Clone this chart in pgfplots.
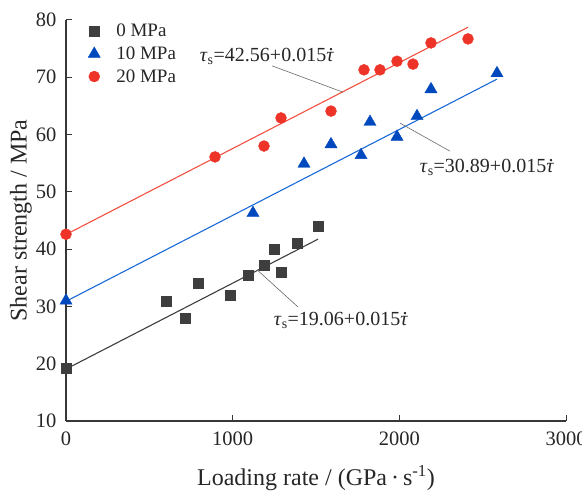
\documentclass[border=0pt]{standalone}
\usepackage{fontspec}
\setmainfont{Liberation Serif}
\usepackage{pgfplots}
\pgfplotsset{compat=1.18}
\definecolor{axisc}{RGB}{55,55,55}
\definecolor{cblk}{RGB}{62,62,62}
\definecolor{cblue}{RGB}{0,72,190}
\definecolor{lblue}{RGB}{25,105,215}
\definecolor{cred}{RGB}{238,52,40}
\definecolor{lred}{RGB}{242,80,64}
\definecolor{leader}{RGB}{105,105,105}
\newcommand\dtau{\leavevmode\rlap{\kern0.12em\raisebox{0.52em}{.}}\textit{τ}}
\begin{document}
\begin{tikzpicture}
\begin{axis}[
  scale only axis, width=500pt, height=401pt,
  xmin=0, xmax=3000, ymin=10, ymax=80,
  xtick={0,1000,2000,3000}, ytick={10,20,...,80},
  axis lines=left, axis line style={-, draw=axisc, line width=1.2pt},
  tick align=inside, major tick length=6pt, tick style={axisc, line width=1pt},
  tick label style={font=\fontsize{20.5}{22}\selectfont, text=black!85},
  xticklabel style={yshift=-7pt},
  yticklabel style={xshift=-6pt},
  /pgf/number format/assume math mode=true,
  /pgf/number format/set thousands separator={},
  xlabel={Loading rate / (GPa\,·\,s\textsuperscript{-1})},
  ylabel={Shear strength / MPa},
  label style={font=\fontsize{24}{28}\selectfont, text=black!85},
  xlabel style={at={(axis description cs:0.5,0)}, anchor=center, yshift=-57pt},
  ylabel style={at={(axis description cs:0,0.5)}, anchor=center, yshift=45pt},
  legend style={draw=none, fill=none, at={(axis description cs:0.038,1.0)}, anchor=north west,
    font=\fontsize{19}{23}\selectfont, text=black!85, row sep=4.5pt,
    /tikz/every odd column/.append style={column sep=14pt}},
  legend cell align=left,
  clip=false,
]
\addplot[only marks, mark=square*, mark size=5pt, color=cblk] coordinates {
 (0,19.3) (600,30.9) (714,28.0) (792,34.1) (984,32.0) (1092,35.5) (1188,37.2) (1248,40.0) (1290,36.0) (1386,41.0) (1512,44.0)
};
\addlegendentry{0 MPa}
\addplot[only marks, mark=triangle*, mark size=7pt, color=cblue] coordinates {
 (0,31.0) (1122,46.3) (1428,54.9) (1590,58.3) (1770,56.4) (1824,62.2) (1986,59.6) (2106,63.2) (2190,67.9) (2586,70.7)
};
\addlegendentry{10 MPa}
\addplot[only marks, mark=*, mark size=5.5pt, color=cred] coordinates {
 (0,42.6) (894,56.1) (1188,58.0) (1290,62.9) (1590,64.1) (1788,71.3) (1884,71.3) (1986,72.8) (2082,72.3) (2190,76.0) (2412,76.7)
};
\addlegendentry{20 MPa}
\addplot[cblk, line width=1.1pt, forget plot] coordinates {(0,19.06) (1512,41.74)};
\addplot[lblue, line width=1.1pt, forget plot] coordinates {(0,30.89) (2586,69.68)};
\addplot[lred, line width=1.1pt, forget plot] coordinates {(0,42.56) (2412,78.74)};
\draw[leader, line width=0.6pt] (axis cs:1236,72.0) -- (axis cs:1662,67.4);
\draw[leader, line width=0.6pt] (axis cs:2004,62.0) -- (axis cs:2304,57.1);
\draw[leader, line width=0.6pt] (axis cs:1146,36.4) -- (axis cs:1392,29.9);
\node[font=\fontsize{20}{24}\selectfont, text=black!85] at (axis cs:1206,73.7) {\textit{τ}\textsubscript{s}=42.56+0.015\dtau};
\node[font=\fontsize{20}{24}\selectfont, text=black!85] at (axis cs:2526,54.3) {\textit{τ}\textsubscript{s}=30.89+0.015\dtau};
\node[font=\fontsize{20}{24}\selectfont, text=black!85] at (axis cs:1650,27.6) {\textit{τ}\textsubscript{s}=19.06+0.015\dtau};
\end{axis}
\pgfresetboundingbox
\path[use as bounding box] ([shift={(-66pt,-71pt)}]current axis.south west) rectangle ([shift={(16pt,20pt)}]current axis.north east);
\end{tikzpicture}
\end{document}
